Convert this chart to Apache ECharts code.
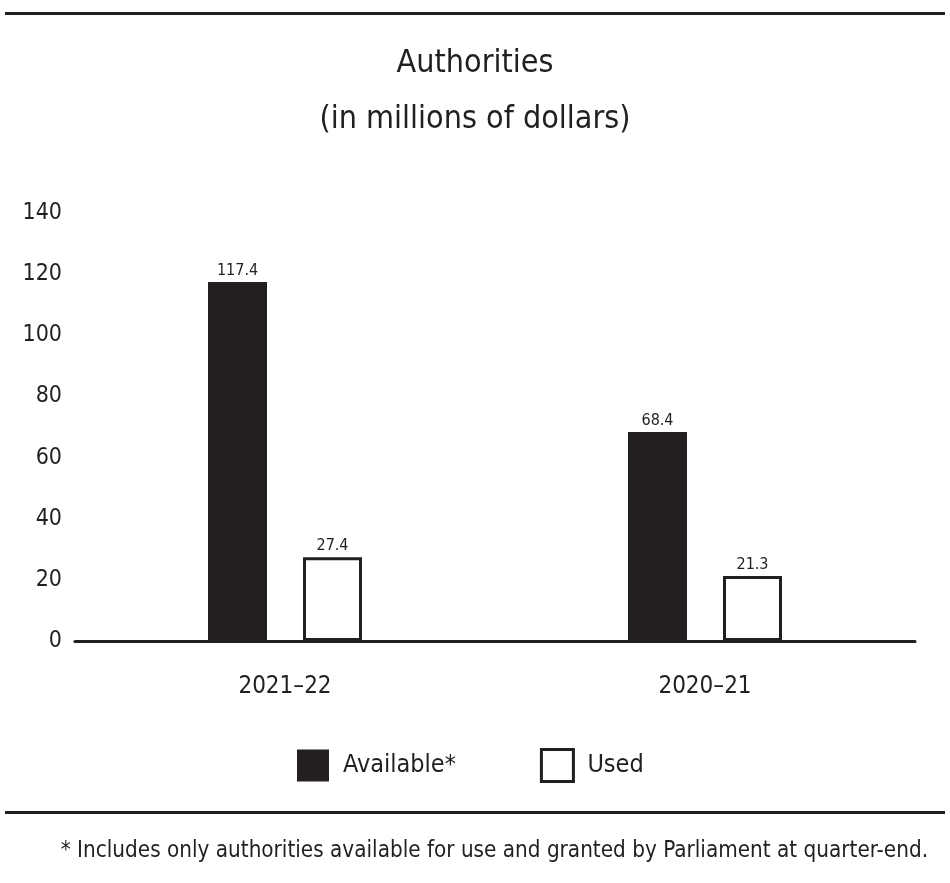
<!DOCTYPE html>
<html>
<head>
<meta charset="utf-8">
<script src="https://cdn.jsdelivr.net/npm/echarts@6/dist/echarts.min.js"></script>
<style>
html,body{margin:0;padding:0;background:#fff;}
#chart{width:950px;height:883px;}
</style>
</head>
<body>
<div id="chart"></div>
<script>
var categories = ['2021–22', '2020–21'];
var availableValues = [117.4, 68.4];
var usedValues = [27.4, 21.3];
var seriesNames = ['Available*', 'Used'];
var yTicks = [0, 20, 40, 60, 80, 100, 120, 140];

var FONT = '"DejaVu Sans Condensed", "Liberation Sans Narrow", sans-serif';
var INK = '#231f20';

var chart = echarts.init(document.getElementById('chart'));
chart.setOption({
  backgroundColor: '#fff',
  animation: false,
  textStyle: { fontFamily: FONT, color: INK },
  title: [{
    text: 'Authorities\n(in millions of dollars)',
    left: 'center',
    top: 31,
    textStyle: { fontFamily: FONT, fontSize: 32, fontWeight: 'normal', color: INK, lineHeight: 56 }
  }],
  graphic: [
    { type: 'rect', shape: { x: 5, y: 12, width: 940, height: 3 }, style: { fill: INK } },
    { type: 'rect', shape: { x: 5, y: 811, width: 940, height: 3 }, style: { fill: INK } },
    { type: 'text', right: 22, top: 840,
      style: { text: '* Includes only authorities available for use and granted by Parliament at quarter-end.',
               font: '22.3px ' + FONT, fill: INK } }
  ],
  legend: {
    left: 292,
    top: 743,
    itemWidth: 32,
    itemHeight: 32,
    itemGap: 84,
    icon: 'rect',
    textStyle: { fontFamily: FONT, fontSize: 25, color: INK, padding: [0, 0, 0, 9] },
    data: [
      { name: seriesNames[0], itemStyle: { color: INK } },
      { name: seriesNames[1], itemStyle: { color: '#fff', borderColor: INK, borderWidth: 3 } }
    ]
  },
  grid: { left: 75, right: 35, top: 213, bottom: 242, containLabel: false },
  xAxis: {
    type: 'category',
    data: categories,
    axisLine: { show: true, lineStyle: { color: INK, width: 3 } },
    axisTick: { show: false },
    axisLabel: { fontFamily: FONT, fontSize: 24, color: INK, margin: 34 }
  },
  yAxis: {
    type: 'value',
    min: yTicks[0],
    max: yTicks[yTicks.length - 1],
    interval: 20,
    axisLine: { show: false },
    axisTick: { show: false },
    splitLine: { show: false },
    axisLabel: { fontFamily: FONT, fontSize: 23, color: INK, margin: 13 }
  },
  series: [
    {
      name: seriesNames[0],
      type: 'bar',
      data: availableValues,
      barWidth: 59,
      barGap: '61%',
      itemStyle: { color: INK },
      label: { show: true, position: 'top', distance: 3, fontFamily: FONT, fontSize: 16, color: INK }
    },
    {
      name: seriesNames[1],
      type: 'bar',
      data: usedValues,
      barWidth: 59,
      itemStyle: { color: '#fff', borderColor: INK, borderWidth: 3 },
      label: { show: true, position: 'top', distance: 3, fontFamily: FONT, fontSize: 16, color: INK }
    }
  ]
});
</script>
</body>
</html>
